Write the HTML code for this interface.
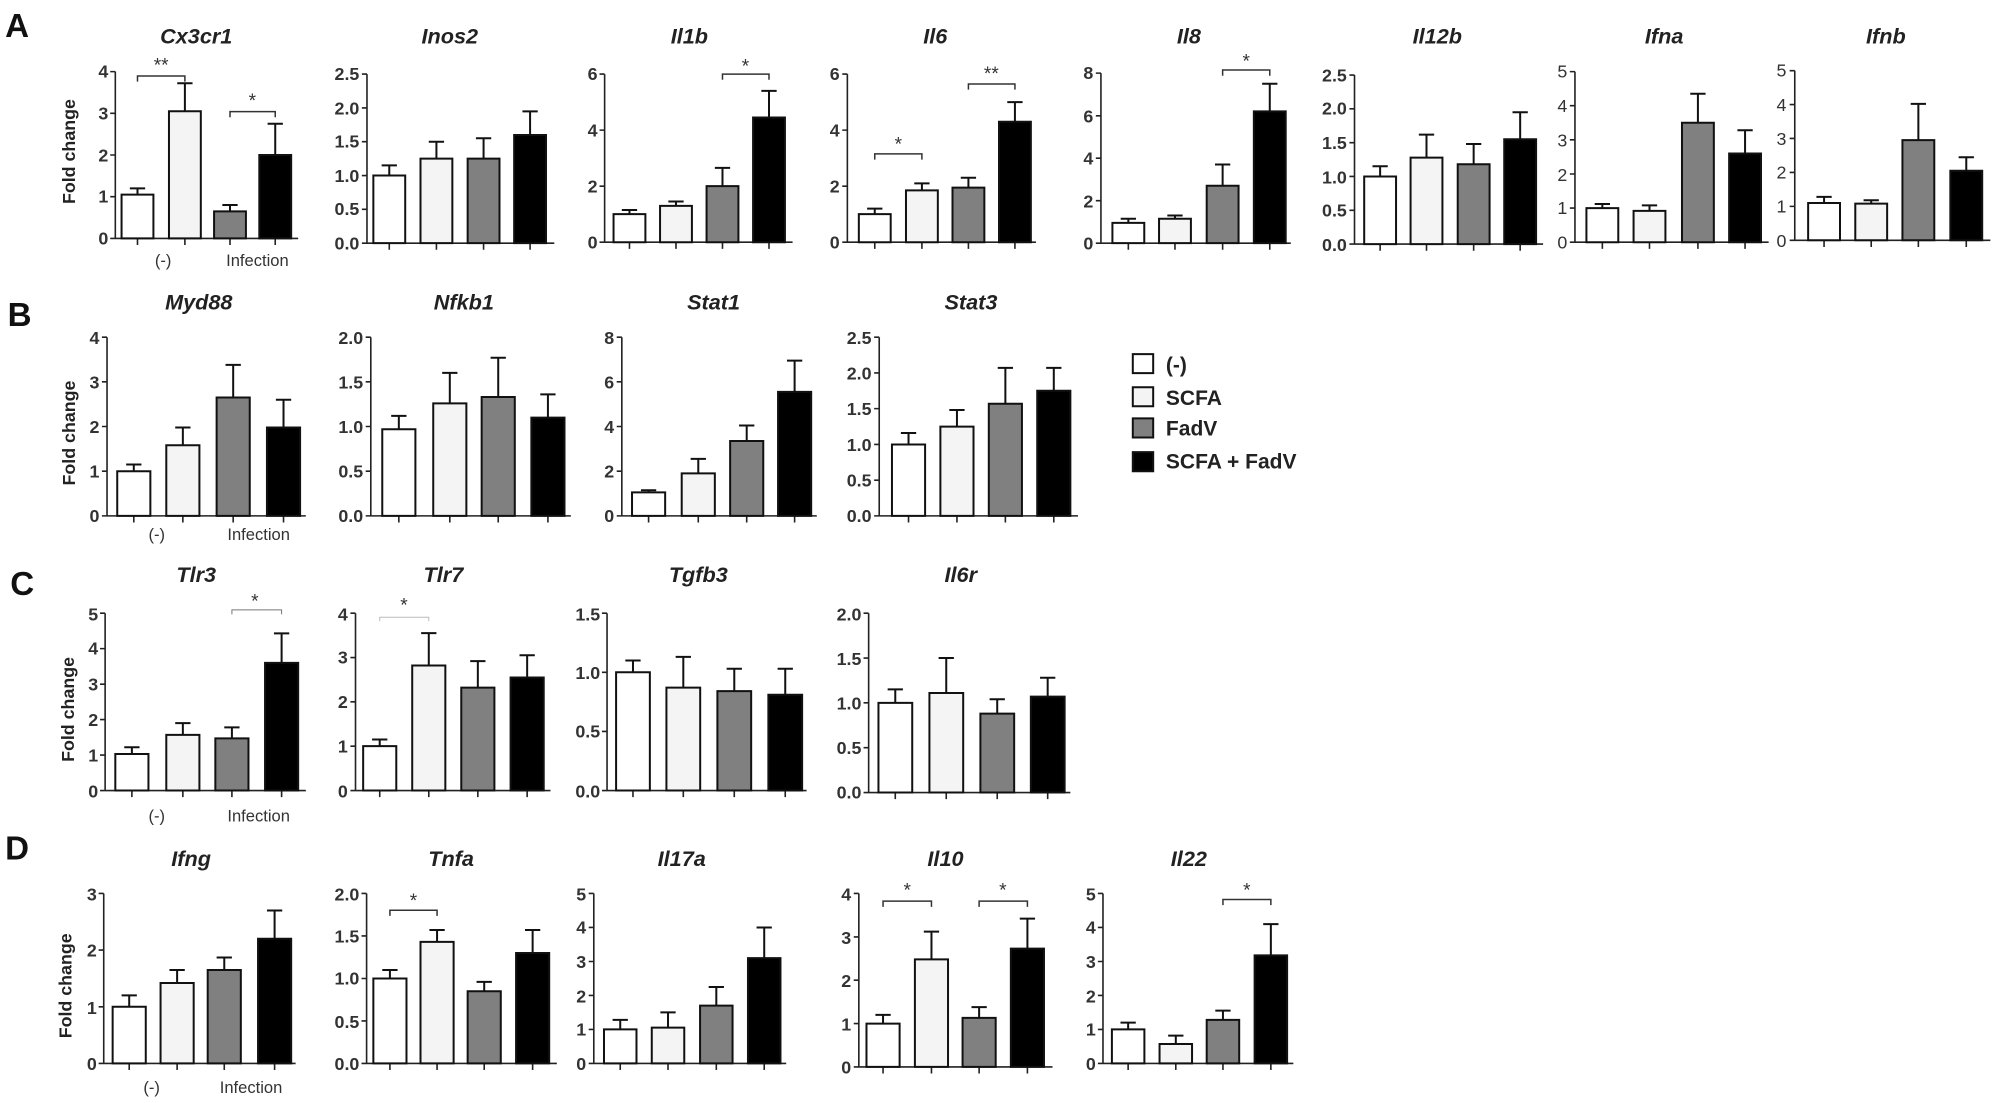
<!DOCTYPE html>
<html><head><meta charset="utf-8"><style>
html,body{margin:0;padding:0;background:#fff;}
svg{display:block;}
text{font-family:"Liberation Sans Narrow","Liberation Sans",sans-serif;}
.t{font-size:14px;font-weight:bold;fill:#333;}
.ti{font-size:17px;font-weight:bold;font-style:italic;fill:#222;}
.L{font-size:26px;font-weight:bold;font-family:"Liberation Sans",sans-serif;fill:#111;}
.fc{font-size:14px;font-weight:bold;font-family:"Liberation Sans",sans-serif;fill:#222;}
.xl{font-size:13px;fill:#333;}
.st{font-size:15px;fill:#333;}
.lg{font-size:16.5px;font-weight:bold;font-family:"Liberation Sans",sans-serif;fill:#222;}
.ax{fill:none;stroke:#222;stroke-width:1.6;vector-effect:non-scaling-stroke;}
.b{stroke:#111;stroke-width:2;vector-effect:non-scaling-stroke;}
.e{fill:none;stroke:#111;stroke-width:2;vector-effect:non-scaling-stroke;}
.br{fill:none;stroke:#333;stroke-width:1.5;vector-effect:non-scaling-stroke;}
</style></head><body>
<svg width="1998" height="1103" viewBox="0 0 1568 866" preserveAspectRatio="none" xmlns="http://www.w3.org/2000/svg">
<rect width="1568" height="866" fill="#fff"/>

<!-- labels -->
<text class="L" x="4" y="29">A</text>
<text class="L" x="6" y="256">B</text>
<text class="L" x="8" y="467">C</text>
<text class="L" x="4" y="675">D</text>
<text class="fc" transform="translate(59,119) rotate(-90)" text-anchor="middle">Fold change</text>
<text class="fc" transform="translate(59,340) rotate(-90)" text-anchor="middle">Fold change</text>
<text class="fc" transform="translate(58,557) rotate(-90)" text-anchor="middle">Fold change</text>
<text class="fc" transform="translate(56,774) rotate(-90)" text-anchor="middle">Fold change</text>

<!-- ===== ROW A shapes ===== -->
<g transform="translate(0,0) scale(1,0.7457)">
<path class="ax" d="M90.5 75.4V251H234 M86.5 75.4H90.5 M86.5 119.3H90.5 M86.5 163.2H90.5 M86.5 207.1H90.5 M86.5 251H90.5 M107.9 251v7 M145.1 251v7 M180.5 251v7 M216 251v7"/>
<rect class="b" x="95.4" y="204.9" width="25" height="46.1" fill="#fff"/>
<rect class="b" x="132.6" y="117.1" width="25" height="133.9" fill="#f4f4f4"/>
<rect class="b" x="168" y="222.5" width="25" height="28.5" fill="#808080"/>
<rect class="b" x="203.5" y="163.2" width="25" height="87.8" fill="#000"/>
<path class="e" d="M107.9 204.9V198.3M101.9 198.3H113.9 M145.1 117.1V87.7M139.1 87.7H151.1 M180.5 222.5V215.9M174.5 215.9H186.5 M216 163.2V130.3M210 130.3H222"/>
<path class="br" d="M107.9 86V80H145.1V86 M180.5 123.5V117.5H216V123.5"/>

<path class="ax" d="M288 78V256H435 M284 78H288 M284 113.6H288 M284 149.2H288 M284 184.8H288 M284 220.4H288 M284 256H288 M305.5 256v7 M342.5 256v7 M379.5 256v7 M416 256v7"/>
<rect class="b" x="293" y="184.8" width="25" height="71.2" fill="#fff"/>
<rect class="b" x="330" y="167" width="25" height="89" fill="#f4f4f4"/>
<rect class="b" x="367" y="167" width="25" height="89" fill="#808080"/>
<rect class="b" x="403.5" y="142.1" width="25" height="113.9" fill="#000"/>
<path class="e" d="M305.5 184.8V174.1M299.5 174.1H311.5 M342.5 167V149.2M336.5 149.2H348.5 M379.5 167V145.6M373.5 145.6H385.5 M416 142.1V117.2M410 117.2H422"/>

<path class="ax" d="M474.5 78V255H622 M470.5 78H474.5 M470.5 137H474.5 M470.5 196H474.5 M470.5 255H474.5 M494 255v7 M530.5 255v7 M567 255v7 M603.5 255v7"/>
<rect class="b" x="481.5" y="225.5" width="25" height="29.5" fill="#fff"/>
<rect class="b" x="518" y="216.7" width="25" height="38.3" fill="#f4f4f4"/>
<rect class="b" x="554.5" y="196" width="25" height="59" fill="#808080"/>
<rect class="b" x="591" y="123.7" width="25" height="131.3" fill="#000"/>
<path class="e" d="M494 225.5V221.1M488 221.1H500 M530.5 216.7V212.2M524.5 212.2H536.5 M567 196V176.8M561 176.8H573 M603.5 123.7V95.7M597.5 95.7H609.5"/>
<path class="br" d="M567 84V78H603.5V84"/>

<path class="ax" d="M665 78V255H813 M661 78H665 M661 137H665 M661 196H665 M661 255H665 M686.5 255v7 M723.5 255v7 M760 255v7 M796.5 255v7"/>
<rect class="b" x="674" y="225.5" width="25" height="29.5" fill="#fff"/>
<rect class="b" x="711" y="200.4" width="25" height="54.6" fill="#f4f4f4"/>
<rect class="b" x="747.5" y="197.5" width="25" height="57.5" fill="#808080"/>
<rect class="b" x="784" y="128.2" width="25" height="126.8" fill="#000"/>
<path class="e" d="M686.5 225.5V219.6M680.5 219.6H692.5 M723.5 200.4V193.1M717.5 193.1H729.5 M760 197.5V187.2M754 187.2H766 M796.5 128.2V107.5M790.5 107.5H802.5"/>
<path class="br" d="M686.5 168V162H723.5V168 M760 94.4V88.4H796.5V94.4"/>

<path class="ax" d="M864 77V256H1013 M860 77H864 M860 121.9H864 M860 166.5H864 M860 211.3H864 M860 256H864 M885.5 256v7 M922.1 256v7 M959.5 256v7 M996.5 256v7"/>
<rect class="b" x="873" y="234.7" width="25" height="21.3" fill="#fff"/>
<rect class="b" x="909.6" y="230.3" width="25" height="25.7" fill="#f4f4f4"/>
<rect class="b" x="947" y="195.6" width="25" height="60.4" fill="#808080"/>
<rect class="b" x="984" y="117.3" width="25" height="138.7" fill="#000"/>
<path class="e" d="M885.5 234.7V230.3M879.5 230.3H891.5 M922.1 230.3V226.9M916.1 226.9H928.1 M959.5 195.6V173.2M953.5 173.2H965.5 M996.5 117.3V88.2M990.5 88.2H1002.5"/>
<path class="br" d="M959.5 79.7V73.7H996.5V79.7"/>

<path class="ax" d="M1063 79V257H1211 M1059 79H1063 M1059 114.6H1063 M1059 150.2H1063 M1059 185.8H1063 M1059 221.4H1063 M1059 257H1063 M1083.1 257v7 M1119.5 257v7 M1156.5 257v7 M1193 257v7"/>
<rect class="b" x="1070.6" y="185.8" width="25" height="71.2" fill="#fff"/>
<rect class="b" x="1107" y="165.9" width="25" height="91.1" fill="#f4f4f4"/>
<rect class="b" x="1144" y="173" width="25" height="84" fill="#808080"/>
<rect class="b" x="1180.5" y="146.6" width="25" height="110.4" fill="#000"/>
<path class="e" d="M1083.1 185.8V175.1M1077.1 175.1H1089.1 M1119.5 165.9V141.7M1113.5 141.7H1125.5 M1156.5 173V151.6M1150.5 151.6H1162.5 M1193 146.6V118.2M1187 118.2H1199"/>

<path class="ax" d="M1236 75.4V255H1388 M1232 75.4H1236 M1232 111.3H1236 M1232 147.2H1236 M1232 183.2H1236 M1232 219.1H1236 M1232 255H1236 M1257.5 255v7 M1294.5 255v7 M1332.5 255v7 M1369.5 255v7"/>
<rect class="b" x="1245" y="219.1" width="25" height="35.9" fill="#fff"/>
<rect class="b" x="1282" y="222" width="25" height="33" fill="#f4f4f4"/>
<rect class="b" x="1320" y="129.3" width="25" height="125.7" fill="#808080"/>
<rect class="b" x="1357" y="161.6" width="25" height="93.4" fill="#000"/>
<path class="e" d="M1257.5 219.1V214.8M1251.5 214.8H1263.5 M1294.5 222V216.2M1288.5 216.2H1300.5 M1332.5 129.3V98.7M1326.5 98.7H1338.5 M1369.5 161.6V137.2M1363.5 137.2H1375.5"/>

<path class="ax" d="M1408.5 74.4V253H1562 M1404.5 74.4H1408.5 M1404.5 110.1H1408.5 M1404.5 145.8H1408.5 M1404.5 181.6H1408.5 M1404.5 217.3H1408.5 M1404.5 253H1408.5 M1431.5 253v7 M1468.5 253v7 M1505.5 253v7 M1543.1 253v7"/>
<rect class="b" x="1419" y="213.7" width="25" height="39.3" fill="#fff"/>
<rect class="b" x="1456" y="214.4" width="25" height="38.6" fill="#f4f4f4"/>
<rect class="b" x="1493" y="147.6" width="25" height="105.4" fill="#808080"/>
<rect class="b" x="1530.6" y="179.8" width="25" height="73.2" fill="#000"/>
<path class="e" d="M1431.5 213.7V207.3M1425.5 207.3H1437.5 M1468.5 214.4V210.9M1462.5 210.9H1474.5 M1505.5 147.6V109.4M1499.5 109.4H1511.5 M1543.1 179.8V165.5M1537.1 165.5H1549.1"/>
</g>

<!-- ROW A text -->
<g class="ti" text-anchor="middle">
<text x="154" y="34">Cx3cr1</text><text x="353" y="34">Inos2</text><text x="541" y="34">Il1b</text><text x="734" y="34">Il6</text>
<text x="933" y="34">Il8</text><text x="1128" y="34">Il12b</text><text x="1306" y="34">Ifna</text><text x="1480" y="34">Ifnb</text>
</g>
<g class="t" text-anchor="end">
<text x="85" y="192">0</text><text x="85" y="159">1</text><text x="85" y="127">2</text><text x="85" y="94">3</text><text x="85" y="61">4</text>
<text x="282" y="196">0.0</text><text x="282" y="169">0.5</text><text x="282" y="143">1.0</text><text x="282" y="116">1.5</text><text x="282" y="90">2.0</text><text x="282" y="63">2.5</text>
<text x="469" y="195">0</text><text x="469" y="151">2</text><text x="469" y="107">4</text><text x="469" y="63">6</text>
<text x="659" y="195">0</text><text x="659" y="151">2</text><text x="659" y="107">4</text><text x="659" y="63">6</text>
<text x="858" y="196">0</text><text x="858" y="163">2</text><text x="858" y="129">4</text><text x="858" y="96">6</text><text x="858" y="62">8</text>
<text x="1057" y="197">0.0</text><text x="1057" y="170">0.5</text><text x="1057" y="144">1.0</text><text x="1057" y="117">1.5</text><text x="1057" y="90">2.0</text><text x="1057" y="64">2.5</text>
</g>
<g class="t" text-anchor="end" style="font-weight:normal">
<text x="1230" y="195">0</text><text x="1230" y="168">1</text><text x="1230" y="142">2</text><text x="1230" y="115">3</text><text x="1230" y="88">4</text><text x="1230" y="61">5</text>
<text x="1402" y="194">0</text><text x="1402" y="167">1</text><text x="1402" y="140">2</text><text x="1402" y="114">3</text><text x="1402" y="87">4</text><text x="1402" y="60">5</text>
</g>
<g class="st" text-anchor="middle">
<text x="126.5" y="56">**</text><text x="198" y="84">*</text><text x="585" y="57">*</text>
<text x="705" y="118">*</text><text x="778" y="63">**</text><text x="978" y="53">*</text>
</g>
<text class="xl" x="128" y="209" text-anchor="middle">(-)</text>
<text class="xl" x="202" y="209" text-anchor="middle">Infection</text>

<!-- ===== ROW B shapes ===== -->
<g transform="translate(0,57.9) scale(1,0.7457)">
<path class="ax" d="M84 277.4V465.5H240 M80 277.4H84 M80 324.4H84 M80 371.4H84 M80 418.5H84 M80 465.5H84 M105 465.5v7 M143.5 465.5v7 M183 465.5v7 M222.5 465.5v7"/>
<rect class="b" x="92" y="418.5" width="26" height="47" fill="#fff"/>
<rect class="b" x="130.5" y="391.2" width="26" height="74.3" fill="#f4f4f4"/>
<rect class="b" x="170" y="340.9" width="26" height="124.6" fill="#808080"/>
<rect class="b" x="209.5" y="372.4" width="26" height="93.1" fill="#000"/>
<path class="e" d="M105 418.5V411.4M99 411.4H111 M143.5 391.2V372.4M137.5 372.4H149.5 M183 340.9V306.5M177 306.5H189 M222.5 372.4V343.2M216.5 343.2H228.5"/>

<path class="ax" d="M291 277.4V465.5H448 M287 277.4H291 M287 324.4H291 M287 371.4H291 M287 418.5H291 M287 465.5H291 M313 465.5v7 M353 465.5v7 M391 465.5v7 M430 465.5v7"/>
<rect class="b" x="300" y="374.3" width="26" height="91.2" fill="#fff"/>
<rect class="b" x="340" y="347" width="26" height="118.5" fill="#f4f4f4"/>
<rect class="b" x="378" y="340.4" width="26" height="125.1" fill="#808080"/>
<rect class="b" x="417" y="362" width="26" height="103.5" fill="#000"/>
<path class="e" d="M313 374.3V360.2M307 360.2H319 M353 347V315M347 315H359 M391 340.4V299M385 299H397 M430 362V337.6M424 337.6H436"/>

<path class="ax" d="M488 277.4V465.5H641 M484 277.4H488 M484 324.4H488 M484 371.4H488 M484 418.5H488 M484 465.5H488 M509 465.5v7 M548 465.5v7 M586 465.5v7 M623.6 465.5v7"/>
<rect class="b" x="496" y="440.8" width="26" height="24.7" fill="#fff"/>
<rect class="b" x="535" y="420.8" width="26" height="44.7" fill="#f4f4f4"/>
<rect class="b" x="573" y="386.7" width="26" height="78.8" fill="#808080"/>
<rect class="b" x="610.6" y="335" width="26" height="130.5" fill="#000"/>
<path class="e" d="M509 440.8V438.5M503 438.5H515 M548 420.8V405.5M542 405.5H554 M586 386.7V370.3M580 370.3H592 M623.6 335V302.1M617.6 302.1H629.6"/>

<path class="ax" d="M690 277.4V465.5H846 M686 277.4H690 M686 315H690 M686 352.6H690 M686 390.3H690 M686 427.9H690 M686 465.5H690 M713 465.5v7 M751 465.5v7 M789 465.5v7 M827 465.5v7"/>
<rect class="b" x="700" y="390.3" width="26" height="75.2" fill="#fff"/>
<rect class="b" x="738" y="371.5" width="26" height="94" fill="#f4f4f4"/>
<rect class="b" x="776" y="347.4" width="26" height="118.1" fill="#808080"/>
<rect class="b" x="814" y="333.8" width="26" height="131.7" fill="#000"/>
<path class="e" d="M713 390.3V378.2M707 378.2H719 M751 371.5V354.1M745 354.1H757 M789 347.4V309.7M783 309.7H795 M827 333.8V309.7M821 309.7H833"/>
</g>

<!-- ROW B text -->
<g class="ti" text-anchor="middle">
<text x="156" y="243">Myd88</text><text x="364" y="243">Nfkb1</text><text x="560" y="243">Stat1</text><text x="762" y="243">Stat3</text>
</g>
<g class="t" text-anchor="end">
<text x="78" y="410">0</text><text x="78" y="375">1</text><text x="78" y="340">2</text><text x="78" y="305">3</text><text x="78" y="270">4</text>
<text x="285" y="410">0.0</text><text x="285" y="375">0.5</text><text x="285" y="340">1.0</text><text x="285" y="305">1.5</text><text x="285" y="270">2.0</text>
<text x="482" y="410">0</text><text x="482" y="375">2</text><text x="482" y="340">4</text><text x="482" y="305">6</text><text x="482" y="270">8</text>
<text x="684" y="410">0.0</text><text x="684" y="382">0.5</text><text x="684" y="354">1.0</text><text x="684" y="326">1.5</text><text x="684" y="298">2.0</text><text x="684" y="270">2.5</text>
</g>
<text class="xl" x="123" y="424" text-anchor="middle">(-)</text>
<text class="xl" x="203" y="424" text-anchor="middle">Infection</text>

<!-- Legend -->
<rect class="b" x="889" y="278" width="16" height="15" fill="#fff"/>
<rect class="b" x="889" y="304" width="16" height="15" fill="#f4f4f4"/>
<rect class="b" x="889" y="328.5" width="16" height="15" fill="#808080"/>
<rect class="b" x="889" y="355" width="16" height="15" fill="#000"/>
<text class="lg" x="915" y="292">(-)</text>
<text class="lg" x="915" y="318">SCFA</text>
<text class="lg" x="915" y="342">FadV</text>
<text class="lg" x="915" y="368">SCFA + FadV</text>

<!-- ===== ROW C shapes ===== -->
<g transform="translate(0,111.8) scale(1,0.7457)">
<path class="ax" d="M82.5 495.7V682.4H240 M78.5 495.7H82.5 M78.5 533H82.5 M78.5 570.4H82.5 M78.5 607.7H82.5 M78.5 645.1H82.5 M78.5 682.4H82.5 M103.5 682.4v7 M143.5 682.4v7 M182 682.4v7 M221 682.4v7"/>
<rect class="b" x="90.5" y="643.9" width="26" height="38.5" fill="#fff"/>
<rect class="b" x="130.5" y="623.8" width="26" height="58.6" fill="#f4f4f4"/>
<rect class="b" x="169" y="627.5" width="26" height="54.9" fill="#808080"/>
<rect class="b" x="208" y="548" width="26" height="134.4" fill="#000"/>
<path class="e" d="M103.5 643.9V636.8M97.5 636.8H109.5 M143.5 623.8V611.4M137.5 611.4H149.5 M182 627.5V615.9M176 615.9H188 M221 548V517M215 517H227"/>
<path class="br" style="stroke:#777;stroke-width:1" d="M182 497V492.2H221V497"/>

<path class="ax" d="M279 495.7V682.4H432 M275 495.7H279 M275 542.4H279 M275 589H279 M275 635.7H279 M275 682.4H279 M298 682.4v7 M336.5 682.4v7 M375 682.4v7 M413.7 682.4v7"/>
<rect class="b" x="285" y="635.7" width="26" height="46.7" fill="#fff"/>
<rect class="b" x="323.5" y="550.8" width="26" height="131.6" fill="#f4f4f4"/>
<rect class="b" x="362" y="574.1" width="26" height="108.3" fill="#808080"/>
<rect class="b" x="400.7" y="563.4" width="26" height="119" fill="#000"/>
<path class="e" d="M298 635.7V628.7M292 628.7H304 M336.5 550.8V516.7M330.5 516.7H342.5 M375 574.1V546.1M369 546.1H381 M413.7 563.4V540M407.7 540H419.7"/>
<path class="br" style="stroke:#bbb;stroke-width:1" d="M298 504V500H336.5V504"/>

<path class="ax" d="M476.4 495.7V682.4H633 M472.4 495.7H476.4 M472.4 557.9H476.4 M472.4 620.2H476.4 M472.4 682.4H476.4 M496.75 682.4v7 M536.25 682.4v7 M576.25 682.4v7 M616.25 682.4v7"/>
<rect class="b" x="483.5" y="557.9" width="26.5" height="124.5" fill="#fff"/>
<rect class="b" x="523" y="574.1" width="26.5" height="108.3" fill="#f4f4f4"/>
<rect class="b" x="563" y="577.8" width="26.5" height="104.6" fill="#808080"/>
<rect class="b" x="603" y="581.6" width="26.5" height="100.8" fill="#000"/>
<path class="e" d="M496.75 557.9V545.5M490.75 545.5H502.75 M536.25 574.1V541.7M530.25 541.7H542.25 M576.25 577.8V554.2M570.25 554.2H582.25 M616.25 581.6V554.2M610.25 554.2H622.25"/>

<path class="ax" d="M681.7 495.7V684.5H840 M677.7 495.7H681.7 M677.7 542.9H681.7 M677.7 590.1H681.7 M677.7 637.3H681.7 M677.7 684.5H681.7 M702.6 684.5v7 M742.6 684.5v7 M782.6 684.5v7 M822.2 684.5v7"/>
<rect class="b" x="689.4" y="590.1" width="26.5" height="94.4" fill="#fff"/>
<rect class="b" x="729.4" y="579.7" width="26.5" height="104.8" fill="#f4f4f4"/>
<rect class="b" x="769.4" y="601.4" width="26.5" height="83.1" fill="#808080"/>
<rect class="b" x="809" y="583.5" width="26.5" height="101" fill="#000"/>
<path class="e" d="M702.6 590.1V575.9M696.6 575.9H708.6 M742.6 579.7V542.9M736.6 542.9H748.6 M782.6 601.4V586.3M776.6 586.3H788.6 M822.2 583.5V563.7M816.2 563.7H828.2"/>
</g>

<!-- ROW C text -->
<g class="ti" text-anchor="middle">
<text x="154" y="457">Tlr3</text><text x="348" y="457">Tlr7</text><text x="548" y="457">Tgfb3</text><text x="754" y="457">Il6r</text>
</g>
<g class="t" text-anchor="end">
<text x="77" y="626">0</text><text x="77" y="598">1</text><text x="77" y="570">2</text><text x="77" y="542">3</text><text x="77" y="514">4</text><text x="77" y="487">5</text>
<text x="273" y="626">0</text><text x="273" y="591">1</text><text x="273" y="556">2</text><text x="273" y="521">3</text><text x="273" y="487">4</text>
<text x="471" y="626">0.0</text><text x="471" y="579">0.5</text><text x="471" y="533">1.0</text><text x="471" y="487">1.5</text>
<text x="676" y="627">0.0</text><text x="676" y="592">0.5</text><text x="676" y="557">1.0</text><text x="676" y="522">1.5</text><text x="676" y="487">2.0</text>
</g>
<g class="st" text-anchor="middle"><text x="200" y="477">*</text><text x="317" y="480">*</text></g>
<text class="xl" x="123" y="645" text-anchor="middle">(-)</text>
<text class="xl" x="203" y="645" text-anchor="middle">Infection</text>

<!-- ===== ROW D shapes ===== -->
<g transform="translate(0,164.3) scale(1,0.7457)">
<path class="ax" d="M81.4 720.4V899.3H232 M77.4 720.4H81.4 M77.4 780H81.4 M77.4 839.7H81.4 M77.4 899.3H81.4 M101.4 899.3v7 M139 899.3v7 M176 899.3v7 M215.5 899.3v7"/>
<rect class="b" x="88.4" y="839.7" width="26" height="59.6" fill="#fff"/>
<rect class="b" x="126" y="814.6" width="26" height="84.7" fill="#f4f4f4"/>
<rect class="b" x="163" y="800.9" width="26" height="98.4" fill="#808080"/>
<rect class="b" x="202.5" y="768.1" width="26" height="131.2" fill="#000"/>
<path class="e" d="M101.4 839.7V827.7M95.4 827.7H107.4 M139 814.6V800.9M133 800.9H145 M176 800.9V787.8M170 787.8H182 M215.5 768.1V738.3M209.5 738.3H221.5"/>

<path class="ax" d="M287.7 720.4V899.3H437 M283.7 720.4H287.7 M283.7 765.1H287.7 M283.7 809.9H287.7 M283.7 854.6H287.7 M283.7 899.3H287.7 M306 899.3v7 M343 899.3v7 M380 899.3v7 M418 899.3v7"/>
<rect class="b" x="293" y="809.9" width="26" height="89.4" fill="#fff"/>
<rect class="b" x="330" y="771.4" width="26" height="127.9" fill="#f4f4f4"/>
<rect class="b" x="367" y="823.3" width="26" height="76" fill="#808080"/>
<rect class="b" x="405" y="783" width="26" height="116.3" fill="#000"/>
<path class="e" d="M306 809.9V800.9M300 800.9H312 M343 771.4V758.9M337 758.9H349 M380 823.3V813.4M374 813.4H386 M418 783V758.9M412 758.9H424"/>
<path class="br" d="M306 744V738H343V744"/>

<path class="ax" d="M466 720.4V899.3H617 M462 720.4H466 M462 756.2H466 M462 792H466 M462 827.7H466 M462 863.5H466 M462 899.3H466 M486.75 899.3v7 M524.25 899.3v7 M562.15 899.3v7 M599.75 899.3v7"/>
<rect class="b" x="474" y="863.5" width="25.5" height="35.8" fill="#fff"/>
<rect class="b" x="511.5" y="861.7" width="25.5" height="37.6" fill="#f4f4f4"/>
<rect class="b" x="549.4" y="838.5" width="25.5" height="60.8" fill="#808080"/>
<rect class="b" x="587" y="788.4" width="25.5" height="110.9" fill="#000"/>
<path class="e" d="M486.75 863.5V853.5M480.75 853.5H492.75 M524.25 861.7V845.6M518.25 845.6H530.25 M562.15 838.5V818.8M556.15 818.8H568.15 M599.75 788.4V756.2M593.75 756.2H605.75"/>

<path class="ax" d="M674 720.4V903H826 M670 720.4H674 M670 766.1H674 M670 811.7H674 M670 857.4H674 M670 903H674 M693 903v7 M731 903v7 M768.4 903v7 M806.3 903v7"/>
<rect class="b" x="680" y="857.4" width="26" height="45.6" fill="#fff"/>
<rect class="b" x="718" y="789.8" width="26" height="113.2" fill="#f4f4f4"/>
<rect class="b" x="755.4" y="851.4" width="26" height="51.6" fill="#808080"/>
<rect class="b" x="793.3" y="778.4" width="26" height="124.6" fill="#000"/>
<path class="e" d="M693 857.4V848.2M687 848.2H699 M731 789.8V760.6M725 760.6H737 M768.4 851.4V840M762.4 840H774.4 M806.3 778.4V746.9M800.3 746.9H812.3"/>
<path class="br" d="M693 734.5V728.5H731V734.5 M768.4 734.5V728.5H806.3V734.5"/>

<path class="ax" d="M865.6 720.4V899.3H1015 M861.6 720.4H865.6 M861.6 756.2H865.6 M861.6 792H865.6 M861.6 827.7H865.6 M861.6 863.5H865.6 M861.6 899.3H865.6 M885.35 899.3v7 M922.75 899.3v7 M959.75 899.3v7 M997.35 899.3v7"/>
<rect class="b" x="872.6" y="863.5" width="25.5" height="35.8" fill="#fff"/>
<rect class="b" x="910" y="878.9" width="25.5" height="20.4" fill="#f4f4f4"/>
<rect class="b" x="947" y="853.5" width="25.5" height="45.8" fill="#808080"/>
<rect class="b" x="984.6" y="785.5" width="25.5" height="113.8" fill="#000"/>
<path class="e" d="M885.35 863.5V856.4M879.35 856.4H891.35 M922.75 878.9V870M916.75 870H928.75 M959.75 853.5V843.8M953.75 843.8H965.75 M997.35 785.5V752.6M991.35 752.6H1003.35"/>
<path class="br" d="M959.75 732.7V726.7H997.35V732.7"/>
</g>

<!-- ROW D text -->
<g class="ti" text-anchor="middle">
<text x="150" y="680">Ifng</text><text x="354" y="680">Tnfa</text><text x="535" y="680">Il17a</text><text x="742" y="680">Il10</text><text x="933" y="680">Il22</text>
</g>
<g class="t" text-anchor="end">
<text x="76" y="840">0</text><text x="76" y="796">1</text><text x="76" y="751">2</text><text x="76" y="707">3</text>
<text x="282" y="840">0.0</text><text x="282" y="807">0.5</text><text x="282" y="773">1.0</text><text x="282" y="740">1.5</text><text x="282" y="707">2.0</text>
<text x="460" y="840">0</text><text x="460" y="813">1</text><text x="460" y="787">2</text><text x="460" y="760">3</text><text x="460" y="733">4</text><text x="460" y="707">5</text>
<text x="668" y="843">0</text><text x="668" y="809">1</text><text x="668" y="775">2</text><text x="668" y="741">3</text><text x="668" y="707">4</text>
<text x="860" y="840">0</text><text x="860" y="813">1</text><text x="860" y="787">2</text><text x="860" y="760">3</text><text x="860" y="733">4</text><text x="860" y="707">5</text>
</g>
<g class="st" text-anchor="middle">
<text x="324.5" y="712">*</text><text x="712" y="704">*</text><text x="787" y="704">*</text><text x="978.5" y="704">*</text>
</g>
<text class="xl" x="119" y="858" text-anchor="middle">(-)</text>
<text class="xl" x="197" y="858" text-anchor="middle">Infection</text>
</svg>
</body></html>
